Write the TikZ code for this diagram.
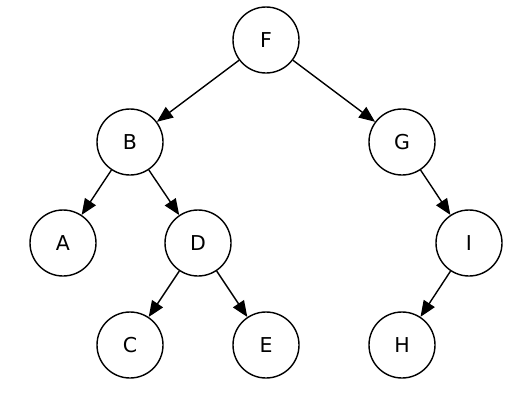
\documentclass[tikz,border=0pt]{standalone}
\usepackage{fontspec}
\setmainfont{DejaVu Sans}
\usetikzlibrary{arrows.meta}
\begin{document}
\begin{tikzpicture}[x=1pt,y=-1pt,
  vert/.style={circle,draw,line width=1.4pt,minimum size=66pt,inner sep=0pt,font=\fontsize{20.5}{24}\selectfont},
  edge/.style={line width=1.4pt,-{Triangle[length=16pt,width=13pt]}}]
\useasboundingbox (0,0) rectangle (522,402);
\node[vert] (F) at (266,40) {F};
\node[vert] (B) at (130,142) {B};
\node[vert] (G) at (402,142) {G};
\node[vert] (A) at (63,243) {A};
\node[vert] (D) at (198,243) {D};
\node[vert] (I) at (469,243) {I};
\node[vert] (C) at (130,345) {C};
\node[vert] (E) at (266,345) {E};
\node[vert] (H) at (402,345) {H};
\draw[edge] (F) -- (B);
\draw[edge] (F) -- (G);
\draw[edge] (B) -- (A);
\draw[edge] (B) -- (D);
\draw[edge] (G) -- (I);
\draw[edge] (D) -- (C);
\draw[edge] (D) -- (E);
\draw[edge] (I) -- (H);
\end{tikzpicture}
\end{document}
